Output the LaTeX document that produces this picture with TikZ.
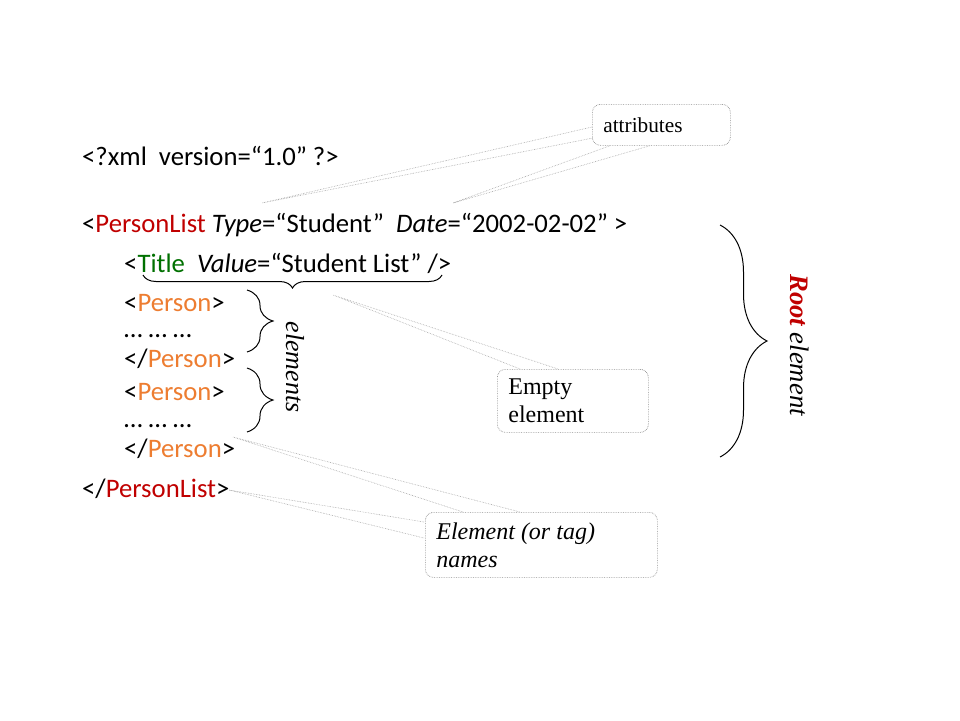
\documentclass[tikz,border=0pt]{standalone}
\usepackage{fontspec}
\setmainfont{Liberation Serif}
\newfontfamily\calibri{Carlito}
\usetikzlibrary{decorations.pathreplacing,calc}
\definecolor{plred}{HTML}{C00000}
\definecolor{ttgreen}{HTML}{007000}
\definecolor{porange}{HTML}{ED7D31}
\definecolor{callgray}{HTML}{8C8C8C}
\begin{document}
\begin{tikzpicture}[x=1pt,y=-1pt,
  code/.style={anchor=base west,inner sep=0pt,font=\calibri\fontsize{26.7}{32}\selectfont},
  callout/.style={draw=callgray,densely dotted,rounded corners=8pt,line width=0.7pt,
    anchor=north west,align=flush left,inner xsep=11pt,inner ysep=0pt},
  ptr/.style={draw=callgray!80,densely dotted,line width=0.6pt},
  bracestyle/.style={decorate,decoration={brace,amplitude=#1},line width=1pt}]
\useasboundingbox (0,0) rectangle (960,720);

% XML code
\node[code] (l1) at (82,165) {<?xml\ \ version=“1.0” ?>};
\node[code] (l2) at (82,232) {<\textcolor{plred}{PersonList} \textit{Type}=“Student”\ \ \textit{Date}=“2002-02-02” >};
\node[code] (l3) at (124,272) {<\textcolor{ttgreen}{Title}\ \ \textit{Value}=“Student List” />};
\node[code] (p1) at (124,311) {<\textcolor{porange}{Person}>};
\node[code] (d1) at (124,337) {… … …};
\node[code] (q1) at (124,367) {</\textcolor{porange}{Person}>};
\node[code] (p2) at (124,400) {<\textcolor{porange}{Person}>};
\node[code] (d2) at (124,427) {… … …};
\node[code] (q2) at (124,457) {</\textcolor{porange}{Person}>};
\node[code] (l9) at (82,497) {</\textcolor{plred}{PersonList}>};

% braces
\draw[bracestyle=13] (442,275) -- (143,275);
\draw[bracestyle=26] (247,290) -- (247,352);
\draw[bracestyle=26] (247,368) -- (247,432);
\draw[bracestyle=47] (720,225) -- (720,457);

% rotated labels
\node[rotate=-90,font=\fontsize{26}{30}\selectfont\itshape] (elems) at (295,367) {elements};
\node[rotate=-90,font=\fontsize{26.7}{30}\selectfont\itshape] (root) at (800,345) {\textcolor{plred}{\bfseries Root} element};

% callouts
\node[callout,text width=116pt,minimum height=41pt,font=\fontsize{21.3}{25}\selectfont] (attr) at (592,104) {attributes};
\node[callout,text width=129pt,minimum height=63pt,font=\fontsize{24}{27.6}\selectfont] (empty) at (497,369) {Empty\\element};
\node[callout,text width=210pt,minimum height=65pt,font=\fontsize{24}{28}\selectfont\itshape] (names) at (425,512) {Element (or tag)\\names};

% pointer coordinates
\coordinate (ta1) at (262,203);
\coordinate (ta2) at (453,203);
\coordinate (te) at (333,295);
\coordinate (tn1) at (233,437);
\coordinate (tn2) at (229,490);
\coordinate (ba1) at ($(attr.north west)+(0,23)$);
\coordinate (ba2) at ($(attr.north west)+(1,34)$);
\coordinate (ba3) at ($(attr.south west)+(18,0)$);
\coordinate (ba4) at ($(attr.south west)+(58,0)$);
\coordinate (be1) at ($(empty.north west)+(23,0)$);
\coordinate (be2) at ($(empty.north west)+(61,0)$);
\coordinate (bn1) at ($(names.north west)+(38,0)$);
\coordinate (bn2) at ($(names.north west)+(95,0)$);
\coordinate (bn3) at ($(names.north west)+(-1,10)$);
\coordinate (bn4) at ($(names.north west)+(-1,26)$);

\draw[ptr] (ba1) -- (ta1) -- (ba2);
\draw[ptr] (ba3) -- (ta2) -- (ba4);
\draw[ptr] (be1) -- (te) -- (be2);
\draw[ptr] (bn1) -- (tn1) -- (bn2);
\draw[ptr] (bn3) -- (tn2) -- (bn4);
\end{tikzpicture}
\end{document}
